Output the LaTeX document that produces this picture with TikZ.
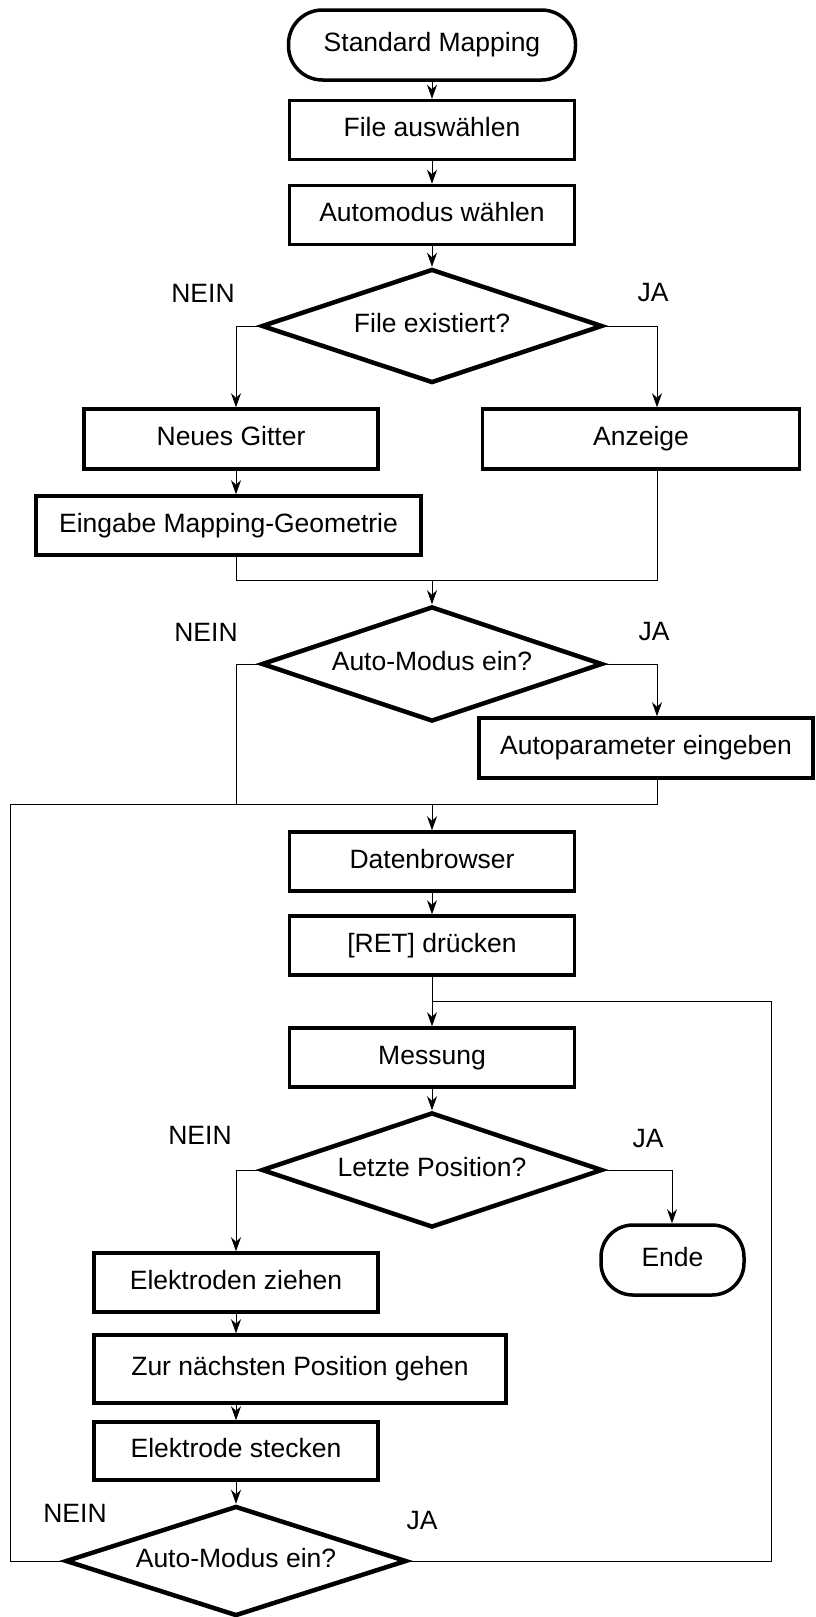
\documentclass[tikz,border=0pt]{standalone}
\usepackage{fontspec}
\setmainfont{Liberation Sans}
\usetikzlibrary{shapes.geometric,arrows.meta}
\tikzset{
  lbl/.style={font=\fontsize{26.5}{30}\selectfont, inner sep=0pt},
  txt/.style={font=\fontsize{26.5}{30}\selectfont, text height=19pt, text depth=5.5pt},
  stepbox/.style={draw, line width=3.5pt, rectangle, inner sep=0pt, txt},
  term/.style={draw, line width=3.5pt, rectangle, rounded corners=34pt, inner sep=0pt, txt},
  decide/.style={draw, line width=4.5pt, diamond, aspect=3, inner sep=0pt, minimum width=341pt, txt},
  conn/.style={line width=1pt},
  arr/.style={line width=1pt, -{Stealth[length=14pt,width=10pt,inset=4.5pt]}}
}
\begin{document}
\begin{tikzpicture}[x=1pt,y=-1pt]
\useasboundingbox (0,0) rectangle (816,1617);
% nodes
\node[term, minimum width=287pt, minimum height=70pt] (start) at (432,45) {Standard Mapping};
\node[stepbox, minimum width=285pt, minimum height=59pt] (file) at (432,130) {File auswählen};
\node[stepbox, minimum width=285pt, minimum height=59pt] (auto) at (432,215) {Automodus wählen};
\node[decide, minimum height=114pt] (d1) at (432,326) {File existiert?};
\node[stepbox, minimum width=294pt, minimum height=60pt] (ng) at (231,439) {Neues Gitter};
\node[stepbox, minimum width=317pt, minimum height=60pt] (anz) at (641,439) {Anzeige};
\node[stepbox, minimum width=385pt, minimum height=59pt] (emg) at (228.5,525.5) {Eingabe Mapping-Geometrie};
\node[decide, minimum height=115pt] (d2) at (432,664) {Auto-Modus ein?};
\node[stepbox, minimum width=334pt, minimum height=60pt] (ap) at (646,748) {Autoparameter eingeben};
\node[stepbox, minimum width=285pt, minimum height=59pt] (db) at (432,861.5) {Datenbrowser};
\node[stepbox, minimum width=285pt, minimum height=59pt] (ret) at (432,945.5) {[RET] drücken};
\node[stepbox, minimum width=285pt, minimum height=59pt] (mess) at (432,1057.5) {Messung};
\node[decide, minimum height=115pt] (d3) at (432,1170) {Letzte Position?};
\node[term, minimum width=143pt, minimum height=70pt, rounded corners=32pt] (ende) at (672.5,1260) {Ende};
\node[stepbox, minimum width=284pt, minimum height=59pt] (ez) at (236,1282.5) {Elektroden ziehen};
\node[stepbox, minimum width=412pt, minimum height=68pt] (zur) at (300,1369) {Zur nächsten Position gehen};
\node[stepbox, minimum width=284pt, minimum height=58pt] (es) at (236,1451) {Elektrode stecken};
\node[decide, minimum height=110pt] (d4) at (236,1561) {Auto-Modus ein?};
% labels
\node[lbl] (n1) at (203,293) {NEIN};
\node[lbl] (j1) at (653,293) {JA};
\node[lbl] (n2) at (206,632) {NEIN};
\node[lbl] (j2) at (654,632) {JA};
\node[lbl] (n3) at (200,1135) {NEIN};
\node[lbl] (j3) at (648,1138) {JA};
\node[lbl] (n4) at (75,1513) {NEIN};
\node[lbl] (j4) at (422,1520) {JA};
% coordinates
\coordinate (colL) at (236,0);
\coordinate (colR) at (657,0);
\coordinate (colE) at (672,0);
\coordinate (mL) at (236,580);
\coordinate (mC) at (432,580);
\coordinate (mR) at (657,580);
\coordinate (bFar) at (10,804);
\coordinate (bL) at (236,804);
\coordinate (bC) at (432,804);
\coordinate (bR) at (657,804);
\coordinate (jC) at (432,1001);
\coordinate (jR) at (771,1001);
% connectors
\draw[arr] (start.south) -- (file.north);
\draw[arr] (file.south) -- (auto.north);
\draw[arr] (auto.south) -- (d1.north);
\draw[arr] (d1.west) -| (colL |- ng.north);
\draw[arr] (d1.east) -| (colR |- anz.north);
\draw[arr] (colL |- ng.south) -- (colL |- emg.north);
\draw[conn] (colL |- emg.south) -- (mL) -- (mR) -- (colR |- anz.south);
\draw[arr] (mC) -- (d2.north);
\draw[conn] (d2.west) -| (bL);
\draw[arr] (d2.east) -| (colR |- ap.north);
\draw[conn] (d4.west) -| (bFar) -- (bR) -- (colR |- ap.south);
\draw[arr] (bC) -- (db.north);
\draw[arr] (db.south) -- (ret.north);
\draw[arr] (ret.south) -- (mess.north);
\draw[arr] (mess.south) -- (d3.north);
\draw[arr] (d3.west) -| (colL |- ez.north);
\draw[arr] (d3.east) -| (colE |- ende.north);
\draw[arr] (colL |- ez.south) -- (colL |- zur.north);
\draw[arr] (colL |- zur.south) -- (colL |- es.north);
\draw[arr] (colL |- es.south) -- (d4.north);
\draw[conn] (d4.east) -| (jR) -- (jC);
\end{tikzpicture}
\end{document}
